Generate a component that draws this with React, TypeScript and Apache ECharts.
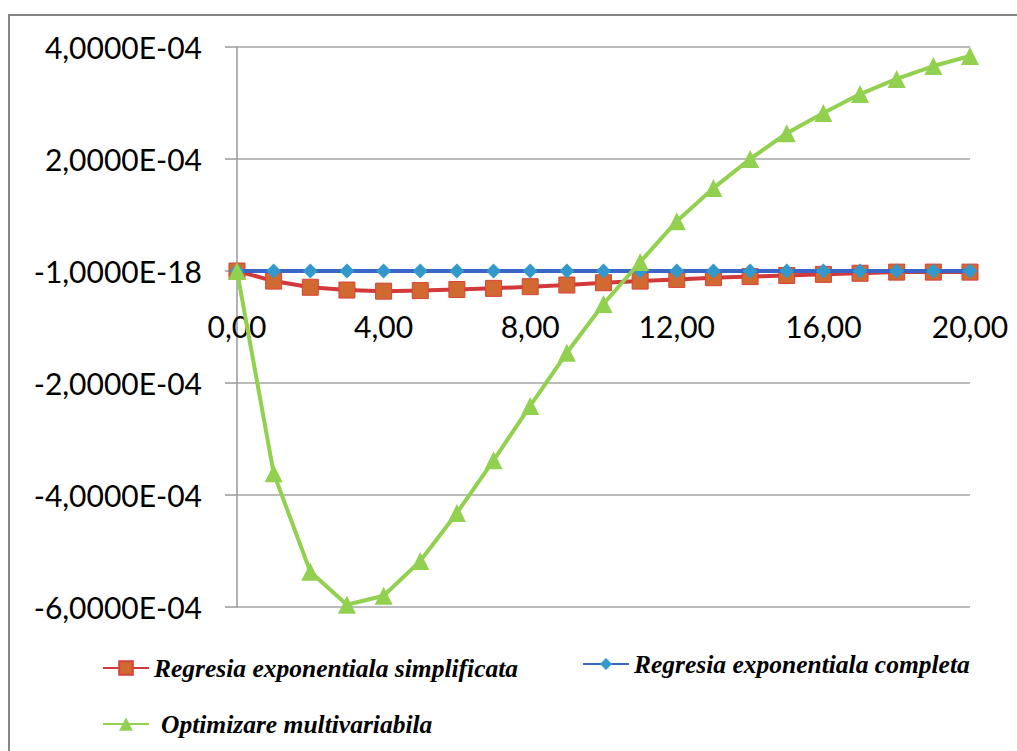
import React, { useEffect, useRef } from "react";
import * as echarts from "echarts";

const xValues = [0, 1, 2, 3, 4, 5, 6, 7, 8, 9, 10, 11, 12, 13, 14, 15, 16, 17, 18, 19, 20];
const simplificata = [0, -0.18e-4, -0.29e-4, -0.34e-4, -0.36e-4, -0.35e-4, -0.33e-4, -0.31e-4, -0.28e-4, -0.25e-4, -0.21e-4, -0.18e-4, -0.15e-4, -0.12e-4, -0.1e-4, -0.08e-4, -0.06e-4, -0.04e-4, -0.02e-4, -0.02e-4, -0.02e-4];
const completa = [0, 0, 0, 0, 0, 0, 0, 0, 0, 0, 0, 0, 0, 0, 0, 0, 0, 0, 0, 0, 0];
const multivariabila = [0, -3.61e-4, -5.37e-4, -5.96e-4, -5.8e-4, -5.18e-4, -4.32e-4, -3.38e-4, -2.41e-4, -1.46e-4, -0.59e-4, 0.16e-4, 0.89e-4, 1.48e-4, 2.0e-4, 2.46e-4, 2.82e-4, 3.16e-4, 3.43e-4, 3.66e-4, 3.84e-4];
const seriesNames = [
  "Regresia exponentiala simplificata",
  "Regresia exponentiala completa",
  "Optimizare multivariabila",
];
const yTickLabels = ["-6,0000E-04", "-4,0000E-04", "-2,0000E-04", "-1,0000E-18", "2,0000E-04", "4,0000E-04"];
const xTickLabels = ["0,00", "4,00", "8,00", "12,00", "16,00", "20,00"];

const Y_MIN = -6e-4;
const Y_MAX = 4e-4;
const Y_STEP = 2e-4;
const X_STEP = 4;

const GRID_TOP = 47;
const GRID_BOTTOM = 144;
const GRID_H = 751 - GRID_TOP - GRID_BOTTOM;

export default function App() {
  const ref = useRef<HTMLDivElement>(null);
  useEffect(() => {
    if (!ref.current) return;
    const chart = echarts.init(ref.current, undefined, { renderer: "svg" });
    const legendText = {
      fontFamily: "Liberation Serif",
      fontStyle: "italic",
      fontWeight: "bold",
      fontSize: 25.5,
      color: "#000",
    };
    const mk = (d: number[]) => xValues.map((x, i) => [x, d[i]]);
    // distance from bottom of grid to the zero line (x axis crosses at y = 0)
    const zeroOffset = (GRID_H * (0 - Y_MIN)) / (Y_MAX - Y_MIN);
    chart.setOption({
      animation: false,
      backgroundColor: "#fff",
      graphic: [
        {
          type: "rect",
          shape: { x: 9, y: 15, width: 1200, height: 1000 },
          style: { fill: "none", stroke: "#868686", lineWidth: 2 },
          silent: true,
        },
      ],
      grid: { left: 237, right: 47, top: GRID_TOP, bottom: GRID_BOTTOM, containLabel: false },
      xAxis: {
        type: "value",
        min: 0,
        max: 20,
        interval: X_STEP,
        position: "bottom",
        offset: -zeroOffset,
        axisLine: { onZero: false, lineStyle: { color: "#9a9a9a", width: 1.5 } },
        axisTick: { show: false },
        splitLine: { show: false },
        axisLabel: {
          fontFamily: "Lato",
          fontSize: 30,
          color: "#000",
          margin: 40,
          formatter: (v: number) => xTickLabels[Math.round(v / X_STEP)] ?? "",
        },
      },
      yAxis: {
        type: "value",
        min: Y_MIN,
        max: Y_MAX,
        interval: Y_STEP,
        axisLine: { show: true, onZero: false, lineStyle: { color: "#9a9a9a", width: 1.5 } },
        axisTick: { show: true, length: 12, lineStyle: { color: "#9a9a9a", width: 1.5 } },
        splitLine: { show: true, lineStyle: { color: "#a6a6a6", width: 1.5 } },
        axisLabel: {
          fontFamily: "Lato",
          fontSize: 30,
          color: "#000",
          margin: 35,
          formatter: (v: number) => yTickLabels[Math.round((v - Y_MIN) / Y_STEP)] ?? "",
        },
      },
      legend: [
        {
          data: [seriesNames[0]],
          left: 97,
          top: 650,
          itemWidth: 46,
          itemHeight: 17,
          textStyle: legendText,
        },
        {
          data: [seriesNames[1]],
          left: 577,
          top: 646,
          itemWidth: 46,
          itemHeight: 15,
          textStyle: legendText,
        },
        {
          data: [seriesNames[2]],
          left: 97,
          top: 706,
          itemWidth: 46,
          itemHeight: 17,
          textStyle: { ...legendText, padding: [0, 0, 0, 7] },
        },
      ],
      series: [
        {
          name: seriesNames[0],
          type: "line",
          data: mk(simplificata),
          symbol: "rect",
          symbolSize: 16,
          lineStyle: { color: "#d2393a", width: 4 },
          itemStyle: { color: "#d06a30", borderColor: "#d8403a", borderWidth: 1 },
          z: 2,
        },
        {
          name: seriesNames[1],
          type: "line",
          data: mk(completa),
          symbol: "diamond",
          symbolSize: 15,
          lineStyle: { color: "#3a66c8", width: 4 },
          itemStyle: { color: "#3399cc", borderWidth: 0 },
          z: 3,
        },
        {
          name: seriesNames[2],
          type: "line",
          data: mk(multivariabila),
          symbol: "triangle",
          symbolSize: 18,
          lineStyle: { color: "#92d050", width: 4 },
          itemStyle: { color: "#92d050", borderWidth: 0 },
          z: 4,
        },
      ],
    });
    return () => chart.dispose();
  }, []);
  return (
    <div
      ref={ref}
      style={{ position: "fixed", left: 0, top: 0, width: 1017, height: 751 }}
    />
  );
}
